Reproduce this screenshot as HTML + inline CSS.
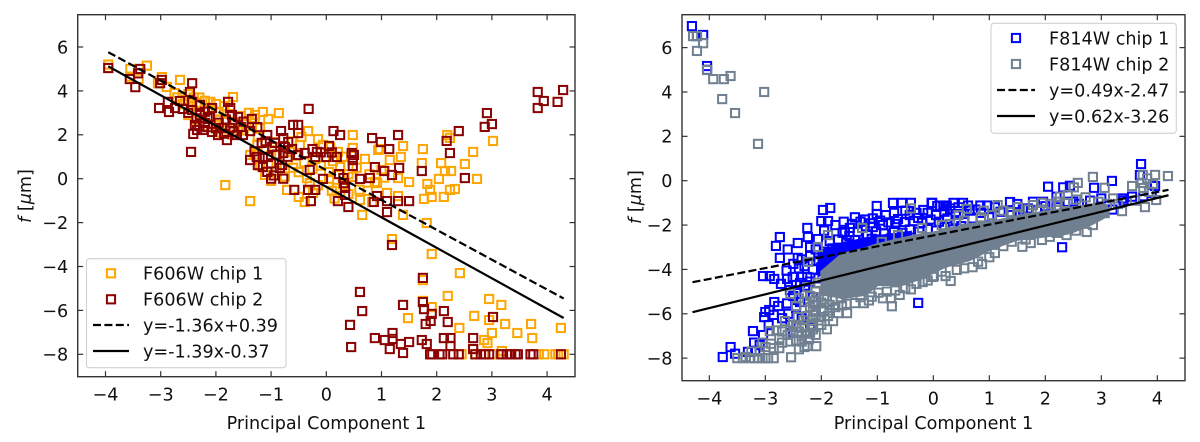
<!DOCTYPE html>
<html lang="en">
<head>
<meta charset="utf-8">
<title>Principal component fits</title>
<style>
html,body{margin:0;padding:0;background:#fff;width:1200px;height:442px;overflow:hidden}
svg{display:block}
text{font-family:"DejaVu Sans","Liberation Sans",sans-serif;font-size:17.6px;fill:#111}
</style>
</head>
<body>
<svg id="chart" xmlns="http://www.w3.org/2000/svg" width="1200" height="442" viewBox="0 0 1200 442"></svg>
<script>
const xTickLabels = [-4,-3,-2,-1,0,1,2,3,4];
const yTickLabels = [-8,-6,-4,-2,0,2,4,6];
const xAxisLabel = "Principal Component 1";

const f606Chip1 = [[-3.95,5.2],[-3.95,5.05],[-3.55,5.0],[-3.25,5.15],[-3.55,4.65],[-3.4,4.55],[-2.98,4.63],[-3.05,4.35],[-2.89,4.18],[-2.65,4.5],[-2.75,3.9],[-2.5,3.85],[-2.4,3.7],[-2.3,3.7],[-2.2,3.55],[-2.1,3.5],[-2.0,3.4],[-2.45,3.3],[-2.3,3.0],[-2.6,3.4],[-1.85,3.3],[-1.69,3.72],[-2.1,2.85],[-1.95,2.7],[-1.8,2.6],[-1.65,2.55],[-1.55,2.85],[-1.4,3.0],[-1.3,2.75],[-1.15,3.04],[-0.86,2.99],[-1.05,2.72],[-1.35,2.4],[-1.2,2.3],[-1.5,2.2],[-1.7,2.0],[-1.9,2.1],[-2.2,2.4],[-0.33,2.17],[0.48,1.99],[-1.83,-0.29],[-1.38,-1.02],[0.65,-1.65],[-0.71,-0.51],[-0.5,-0.83],[-0.39,-1.06],[-1.38,1.08],[-1.11,0.17],[-0.48,1.54],[-0.06,1.54],[0.21,1.22],[0.48,1.4],[0.25,0.58],[0.94,1.31],[0.48,0.08],[0.92,-0.2],[0.61,-0.97],[0.19,-0.42],[-0.24,-0.65],[-0.35,0.03],[-0.84,1.44],[-0.66,1.22],[-0.93,1.67],[-1.24,1.9],[-1.29,2.9],[1.39,1.49],[1.75,1.35],[0.97,1.35],[1.15,0.85],[1.35,0.99],[1.73,0.71],[2.08,0.71],[2.51,0.67],[2.66,1.22],[3.02,1.72],[2.19,1.99],[2.24,1.86],[2.15,0.35],[2.26,0.35],[2.04,-0.01],[2.73,-0.01],[2.33,-0.47],[2.24,-0.51],[2.13,-0.83],[1.77,-0.92],[1.91,-0.83],[1.88,-0.51],[1.83,-0.24],[1.5,-0.15],[1.3,0.03],[1.1,-0.65],[1.3,-0.79],[0.83,-1.06],[0.88,-0.15],[0.25,0.53],[0.07,1.44],[1.39,-1.65],[1.82,-2.02],[1.19,-2.75],[1.91,-3.43],[2.42,-4.3],[1.75,-4.62],[2.2,-5.34],[1.75,-5.57],[1.91,-5.85],[2.95,-5.48],[3.17,-5.75],[1.48,-6.35],[2.68,-6.25],[2.95,-6.44],[3.24,-6.62],[2.41,-6.8],[3.0,-7.03],[3.46,-7.03],[3.71,-6.62],[3.73,-7.26],[4.25,-6.8],[2.86,-7.35],[2.92,-7.49],[3.18,-7.85],[2.66,-7.76],[2.45,-8],[2.7,-8],[3.0,-8],[3.2,-8],[3.7,-8],[3.85,-8],[3.95,-8],[4.15,-8],[4.2,-8],[4.3,-8],[-0.2,0.9],[-0.1,0.6],[0.05,0.3],[0.12,0.8],[0.3,1.0],[0.4,0.2],[0.55,0.5],[0.7,0.9],[0.78,0.2],[1.0,0.4],[0.6,-0.5],[0.4,-0.7],[0.15,-0.9],[-0.6,0.5],[-0.9,0.7],[-1.0,-0.1],[-0.3,-0.2],[-0.5,0.3],[-0.75,0.1],[-0.15,1.8],[-0.45,1.9],[-0.62,1.7],[-2.7,3.7],[-2.55,3.6],[-2.35,3.45],[-2.15,3.2],[-1.95,3.05],[-1.75,2.95],[-2.5,2.9],[-2.35,2.7],[-2.0,2.45],[-1.6,2.3],[-1.45,2.5],[-1.25,1.55],[-1.1,1.35],[-1.3,1.1],[-1.0,1.05],[-1.2,0.6],[-0.9,0.35],[-0.7,0.85],[-0.55,1.05],[-0.4,0.75],[-0.25,0.45],[0.05,0.0],[0.3,-0.25],[0.1,-0.55],[-0.15,-0.3],[0.75,-0.55],[1.05,0.05]];

const f606Chip2 = [[-3.95,5.04],[-3.37,5.0],[-3.41,4.8],[-3.56,4.54],[-3.46,4.17],[-2.98,4.5],[-3.01,4.35],[-2.43,4.35],[-2.47,3.95],[-3.03,3.22],[-2.85,3.04],[-2.87,3.5],[-2.65,3.54],[-2.43,3.5],[-2.29,3.36],[-2.74,3.22],[-2.6,3.18],[-2.43,3.13],[-2.29,2.9],[-2.07,3.22],[-2.11,2.81],[-1.78,3.5],[-1.74,3.22],[-1.71,2.9],[-1.6,2.81],[-1.35,2.72],[-2.38,2.45],[-2.2,2.54],[-2.41,2.04],[-2.34,2.22],[-2.23,2.22],[-2.07,2.13],[-1.96,1.99],[-1.89,2.31],[-1.8,1.76],[-1.74,2.31],[-1.62,1.99],[-1.51,1.99],[-1.38,2.17],[-2.45,1.22],[-0.82,2.17],[-1.07,1.99],[-1.17,1.63],[-0.78,1.85],[-0.69,1.67],[-0.93,1.63],[-0.75,1.44],[-0.78,1.17],[-1.38,0.85],[-1.26,0.99],[-1.15,0.94],[-1.06,0.99],[-1.24,0.62],[-1.15,0.53],[-1.07,0.31],[-1,0],[-0.78,0],[-0.84,0.49],[-0.8,0.62],[-0.58,-0.51],[-0.6,2.45],[-0.51,2.45],[-0.51,2.08],[-0.51,1.08],[-0.32,3.18],[0.13,2.17],[0.25,1.99],[0.83,1.85],[0.99,1.67],[1.3,1.99],[1.14,1.35],[0.05,1.49],[-0.39,1.17],[-0.17,1.22],[-0.2,0.99],[0,0.99],[0.19,0.99],[0.46,1.17],[0.5,1.08],[0.48,0.85],[0.48,0.58],[0.88,0.53],[1.05,0.35],[1.32,0.49],[1.19,0.17],[1.73,0.35],[0.79,0.03],[0.61,-0.01],[0.23,0.21],[0.31,0.03],[-0.06,-0.01],[-0.3,0.4],[0.32,-0.2],[0.34,-0.42],[0.34,-0.74],[-0.33,-0.51],[-0.2,-0.51],[-0.28,-1.02],[0.21,-1.02],[0.4,-1.29],[0.86,-1.06],[0.92,-0.79],[1.1,-1.02],[1.3,-1.02],[1.5,-1.02],[1.1,-1.52],[2.51,0.03],[2.24,1.17],[2.18,1.72],[2.4,2.17],[2.87,2.36],[2.91,2.99],[3.0,2.49],[3.83,3.95],[3.83,3.22],[3.94,3.54],[4.19,3.5],[4.29,4.04],[1.19,-3.02],[1.75,-4.52],[0.61,-5.16],[0.65,-6.03],[0.43,-6.66],[0.45,-7.67],[0.88,-7.26],[1.06,-7.35],[1.2,-7.03],[1.2,-7.3],[1.15,-7.76],[1.35,-7.53],[1.5,-7.44],[1.39,-7.94],[1.39,-5.75],[1.75,-5.62],[1.77,-5.94],[1.91,-6.16],[1.89,-6.48],[1.8,-6.62],[2.13,-6.03],[2.2,-6.53],[1.73,-7.35],[1.82,-7.53],[2.13,-7.26],[2.25,-7.26],[2.25,-7.62],[2.66,-7.26],[2.66,-7.76],[3.02,-6.3],[1.88,-8],[1.92,-8],[2.05,-8],[2.1,-8],[2.3,-8],[2.4,-8],[2.7,-8],[2.8,-8],[2.88,-8],[2.95,-8],[3.17,-8],[3.27,-8],[3.35,-8],[3.43,-8],[3.47,-8],[3.7,-8],[3.75,-8],[4.25,-8],[-2.3,2.4],[-2.15,2.35],[-2.0,2.3],[-1.85,2.05],[-1.68,2.15],[-1.55,2.35],[-2.15,2.75],[-1.95,2.55],[-1.82,2.7],[-2.5,3.0],[-2.35,2.75],[-2.2,3.05],[-1.7,2.55],[-1.5,2.6],[-1.25,2.35],[-1.1,1.7],[-0.98,1.45],[-0.9,1.1],[-1.3,1.25],[-1.0,0.7],[-0.95,0.15],[-0.7,1.0],[-0.62,1.35],[-0.25,1.35],[-0.1,1.2],[0.1,1.2]];

const f814Chip1 = [[-4.31,6.97],[-4.22,6.52],[-4.11,6.57],[-4.04,5.17],[-4.04,5.0],[-1.97,-1.32],[-1.84,-1.23],[-2.0,-1.82],[-1.88,-1.82],[-2.25,-2.13],[-2.74,-2.54],[-2.81,-2.94],[-2.42,-2.81],[-2.24,-2.54],[-2.74,-3.48],[-2.42,-3.48],[-2.2,-2.99],[-2.06,-2.63],[-1.01,-1.14],[-1.01,-1.5],[-0.72,-1.0],[-0.56,-1.0],[-0.4,-1.0],[-0.02,-1.0],[0.07,-1.14],[-0.18,-1.32],[-0.63,-1.73],[-0.51,-1.86],[-0.27,-1.68],[-1.58,-2.31],[-1.49,-2.13],[-1.27,-2.13],[-1.08,-2.09],[-0.9,-2.0],[-3.04,-4.3],[-2.92,-4.3],[-2.84,-4.43],[-2.61,-4.43],[-2.51,-4.34],[-2.34,-4.34],[-2.25,-4.34],[-2.38,-4.61],[-2.56,-4.93],[-2.29,-4.79],[-2.38,-5.47],[-2.84,-5.47],[-2.77,-5.65],[-2.61,-5.53],[-2.93,-5.83],[-3.0,-5.92],[-3.02,-6.15],[-2.59,-6.0],[-2.94,-6.51],[-3.22,-6.78],[-3.04,-6.96],[-3.2,-7.3],[-3.1,-7.41],[-0.27,-5.51],[-3.62,-7.5],[-3.76,-7.95],[-3.54,-7.8],[-3.31,-7.72],[-3.18,-7.68],[3.71,0.75],[3.69,0.25],[3.19,-0.01],[2.87,-0.32],[2.05,-0.27],[2.32,-0.3],[2.44,-0.23],[2.3,-3.0],[1.37,-0.96],[0.96,-1.12],[0.84,-1.12],[0.62,-1.12],[0.53,-1],[0.36,-1],[0.24,-1.12],[0.12,-1.12],[-0.03,-1],[1.78,-0.95],[1.96,-0.95],[1.69,-1.25],[2.2,-0.72],[2.5,-0.95],[3.55,-0.72],[3.37,-0.8],[3.96,-0.24],[-1.45,-1.95],[-1.3,-1.85],[-1.12,-1.92],[-0.95,-1.8],[-0.8,-1.88],[-0.68,-1.95],[-0.35,-1.82],[-0.2,-1.9],[-0.05,-1.75],[0.1,-1.85],[0.25,-1.7],[0.4,-1.78],[-1.62,-2.35],[-1.5,-2.5],[-1.35,-2.3],[-1.18,-2.42],[-1.02,-2.28],[-0.88,-2.38],[-0.7,-2.25],[-0.55,-2.35],[-0.42,-2.2],[-0.25,-2.3],[-0.1,-2.18],[0.05,-2.25],[0.2,-2.1],[0.35,-2.2],[0.5,-2.05],[-1.85,-2.72],[-1.7,-2.65],[-1.55,-2.8],[-1.4,-2.68],[-1.25,-2.78],[-1.1,-2.62],[-0.92,-2.7],[-0.75,-2.6],[-0.6,-2.65],[-2.1,-3.1],[-1.95,-3.2],[-1.8,-3.05],[-1.65,-3.15],[-1.5,-3.0],[-2.35,-3.55],[-2.2,-3.4],[-2.05,-3.6],[-1.9,-3.5],[-1.75,-3.4],[-2.4,-3.95],[-2.3,-3.85],[-2.15,-4.0],[-2.0,-3.9],[-2.45,-4.7],[-2.2,-4.55],[-2.05,-4.4],[-2.5,-5.2],[-2.3,-5.1],[-2.15,-5.25],[-2.35,-6.2],[-2.2,-6.6],[-2.5,-6.85],[-2.1,-5.9],[0.55,-1.5],[0.7,-1.7],[0.85,-1.45],[1.0,-1.65],[1.2,-1.4],[1.4,-1.55],[1.6,-1.3],[1.85,-1.35],[2.0,-1.15],[2.2,-1.2],[2.4,-0.95],[2.6,-1.05],[2.8,-0.9],[3.0,-0.8],[3.2,-1.3],[3.4,-0.9],[3.9,-0.55],[3.75,-0.7],[2.9,-1.45],[0.2,-1.4],[0.4,-1.5],[0.65,-1.35],[-0.3,-1.45],[-0.1,-1.45],[0.05,-1.55],[-1.95,-2.25],[-1.75,-2.0],[-1.6,-1.85],[-1.4,-1.65],[-1.22,-1.75],[-1.08,-1.7],[-0.85,-1.55],[-0.7,-1.45],[-0.5,-1.35],[-0.42,-1.55],[0.18,-1.15],[0.3,-1.25],[0.45,-1.2],[0.75,-1.3],[1.1,-1.2],[1.5,-1.05],[-2.6,-3.1],[-2.5,-3.75],[-2.62,-4.05],[-2.72,-4.65],[-2.45,-5.75],[-2.7,-6.2],[-2.85,-6.05],[-2.55,-6.5]];

const f814Chip2 = [[-4.29,6.52],[-4.22,6.52],[-4.11,6.2],[-4.22,5.85],[-4.04,4.99],[-3.93,4.58],[-3.74,4.58],[-3.62,4.72],[-3.77,3.68],[-3.54,3.05],[-3.02,4],[-3.13,1.66],[-3.5,-8],[-3.4,-8],[-3.35,-7.95],[-3.28,-8],[-3.2,-8],[-3.12,-8],[-3.05,-8],[-3.0,-8],[-2.95,-8],[-2.85,-8],[-2.54,-7.96],[-3.1,-7.7],[-3.0,-7.5],[-2.85,-7.55],[-2.75,-7.55],[-2.4,-7.6],[-2.3,-7.5],[-2.25,-7.45],[-2.45,-7.2],[-2.35,-7.0],[-2.09,-7.46],[-2.92,-6.78],[-2.8,-6.75],[-2.7,-6.8],[-2.65,-6.33],[-2.5,-6.5],[-2.4,-6.8],[-2.3,-6.6],[-2.25,-6.1],[-2.15,-6.2],[-2.05,-6.3],[-2.0,-6.5],[-1.9,-6.7],[-1.95,-5.9],[-2.2,-5.7],[-2.1,-5.6],[-2.0,-5.5],[-2.15,-5.9],[-2.32,-6.3],[-2.28,-6.9],[-2.18,-6.5],[-2.42,-6.15],[-2.6,-6.95],[-2.75,-7.1],[-2.55,-7.25],[-2.22,-7.15],[-2.2,-6.85],[-1.79,-6.33],[-1.7,-5.97],[-1.54,-5.97],[-1.63,-5.62],[-1.4,-5.52],[-1.24,-5.52],[-1.1,-5.23],[-0.74,-5.66],[-0.76,-5.3],[-0.6,-5.15],[-0.83,-5],[-0.19,-4.57],[-0.01,-4.34],[0.31,-4.52],[0.01,-4.3],[0.42,-4.02],[0.87,-3.76],[1.1,-3.26],[1.59,-2.98],[1.74,-2.81],[1.94,-2.67],[2.08,-2.53],[2.38,-2.45],[2.74,-2.31],[2.85,-2.0],[3.06,-1.46],[3.37,-1.37],[3.78,-1.19],[3.98,-0.87],[2.85,0.17],[2.58,-0.1],[2.51,-0.3],[3.06,-0.32],[3.55,-0.24],[3.74,0.26],[3.96,0.26],[4.19,0.21],[3.72,-0.1],[3.75,-0.33],[1.15,-1.1],[0.6,-1.27],[1.51,-1.19],[1.37,-1.41],[1.78,-1.1],[1.94,-1],[2.26,-0.72],[2.4,-0.64],[2.22,-0.95],[3.21,-0.8],[-1.88,-2.45],[-1.27,-2.13],[-0.63,-2.45],[-0.4,-1.25],[-0.2,-2.13],[0.15,-2],[-2.06,-2.99],[-2.24,-3.66],[-0.92,-2.76],[-2.55,-5.1],[-2.4,-5.3],[-2.2,-5.2],[-2.1,-5.0],[-2.25,-4.8],[-2.05,-4.6],[-1.9,-5.2],[-1.8,-5.4],[-1.65,-5.3],[-0.4,-4.9],[0.7,-3.9],[0.8,-3.65],[1.25,-2.95],[1.4,-2.75],[1.65,-2.65],[2.2,-2.35],[2.55,-2.25],[0.3,-1.95],[0.55,-1.8],[0.85,-1.65],[1.05,-1.55],[1.25,-1.35],[1.5,-1.5],[1.7,-1.3],[1.9,-1.3],[2.1,-1.05],[2.35,-1.0],[2.55,-0.85],[2.72,-0.75],[2.95,-0.95],[3.1,-1.05],[3.3,-1.05],[3.6,-0.9],[3.85,-0.5],[3.92,-0.15],[3.82,0.1],[0.45,-1.55],[0.9,-1.35],[-1.85,-5.6],[-1.75,-5.7],[-1.95,-5.35],[-2.05,-5.25],[-2.12,-5.45],[-2.3,-5.45],[-2.45,-5.65],[-2.0,-5.8],[-1.88,-6.1],[-1.85,-5.85],[-2.1,-6.05],[-2.0,-6.15],[-2.45,-6.6],[-2.35,-7.25],[-2.55,-6.75],[-2.15,-6.7],[-2.1,-6.95],[-2.7,-7.3],[-2.9,-7.35],[-3.05,-7.3],[-3.25,-7.7],[-1.55,-5.55],[-1.3,-5.25],[-1.15,-5.4],[-0.98,-5.05],[-0.9,-5.3],[-0.68,-4.95],[-0.5,-4.85],[-0.3,-4.65],[-0.1,-4.5],[0.15,-4.1],[0.22,-4.3],[0.55,-3.95],[1.0,-3.45]];

const chip1CoreX = [-2.05,-1.6,-1.0,-0.4];
const chip1CoreUpper = [-3.2,-2.8,-2.5,-2.3];
const chip1CoreLower = [-4.3,-3.5,-3.0,-2.7];

const chip2CoreX = [-2.0,-1.63,-1.22,-0.99,-0.56,-0.38,-0.2,0.2,0.65,1.01,1.13,1.49,1.73,1.96,2.32,2.44,2.8,2.92,3.1];
const chip2CoreUpper = [-4.1,-3.3,-3.05,-2.85,-2.6,-2.5,-2.4,-2.25,-1.95,-1.85,-1.8,-1.6,-1.5,-1.4,-1.27,-1.22,-1.08,-1.05,-1.1];
const chip2CoreLower = [-5.06,-5.3,-5.15,-4.7,-4.7,-4.55,-4.4,-3.9,-3.58,-3.12,-3.0,-2.67,-2.6,-2.53,-2.42,-2.37,-2.0,-1.85,-1.6];

const leftFitDashed = {slope:-1.36, intercept:0.39};
const leftFitSolid = {slope:-1.39, intercept:-0.37};
const rightFitDashed = {slope:0.49, intercept:-2.47};
const rightFitSolid = {slope:0.62, intercept:-3.26};
const leftFitRange = [-3.95,4.3];
const rightFitRange = [-4.3,4.2];

const NS = "http://www.w3.org/2000/svg";
const root = document.getElementById("chart");

function make(tag, attrs, parent, txt){
  const el = document.createElementNS(NS, tag);
  for (const k in attrs) el.setAttribute(k, attrs[k]);
  if (txt !== undefined) el.textContent = txt;
  parent.appendChild(el);
  return el;
}

function drawPanel(p){
  const g = make("g", {}, root);
  
  
  const sx = v => p.x0 + p.xk * v;
  const sy = v => p.y0 - p.yk * v;

  function band(xs, up, lo, color, nm){
    const pts = xs.map((x,i) => sx(x) + "," + sy(up[i])).concat(xs.map((x,i) => sx(x) + "," + sy(lo[i])).reverse());
    const poly = make("polygon", {points: pts.join(" "), fill: color, stroke: color, "stroke-width": 2}, g);
    
    
  }
  function scatter(list, color, nm){
    const sg = make("g", {}, g);
    
    
    list.forEach(d => {
      const r = make("rect", {x: sx(d[0]) - 4.1, y: sy(d[1]) - 4.1, width: 8.2, height: 8.2, fill: "none", stroke: color, "stroke-width": 2}, sg);
      
      
    });
  }
  function fit(f, range, dashed, nm){
    const ln = make("line", {x1: sx(range[0]), y1: sy(f.slope * range[0] + f.intercept), x2: sx(range[1]), y2: sy(f.slope * range[1] + f.intercept), stroke: "#000", "stroke-width": 2.2}, g);
    if (dashed) ln.setAttribute("stroke-dasharray", "8 3.4");
    
    
  }

  p.draw(band, scatter, fit);

  const frame = make("rect", {x: p.l, y: p.t, width: p.r - p.l, height: p.b - p.t, fill: "none", stroke: "#333", "stroke-width": 1.4}, g);
  
  

  xTickLabels.forEach(v => {
    const x = sx(v);
    const t1 = make("line", {x1: x, y1: p.b, x2: x, y2: p.b - 5.5, stroke: "#333", "stroke-width": 1.2}, g);
    
    
    const t2 = make("line", {x1: x, y1: p.t, x2: x, y2: p.t + 5.5, stroke: "#333", "stroke-width": 1.2}, g);
    
    
    const lb = make("text", {x: x, y: p.b + 24, "text-anchor": "middle"}, g, String(v).replace("-", "\u2212"));
    
    
  });
  yTickLabels.forEach(v => {
    const y = sy(v);
    const t1 = make("line", {x1: p.l, y1: y, x2: p.l + 5.5, y2: y, stroke: "#333", "stroke-width": 1.2}, g);
    
    
    const t2 = make("line", {x1: p.r, y1: y, x2: p.r - 5.5, y2: y, stroke: "#333", "stroke-width": 1.2}, g);
    
    
    const lb = make("text", {x: p.l - 9.5, y: y + 6.4, "text-anchor": "end"}, g, String(v).replace("-", "\u2212"));
    
    
  });

  const xl = make("text", {x: (p.l + p.r) / 2, y: p.labelY, "text-anchor": "middle"}, g, xAxisLabel);
  
  

  const yl = make("text", {transform: "translate(" + p.ylX + "," + p.ylY + ") rotate(-90)", "text-anchor": "middle"}, g);
  
  
  make("tspan", {"font-style": "italic"}, yl, "f");
  make("tspan", {}, yl, " [");
  make("tspan", {"font-style": "italic"}, yl, "\u03bc");
  make("tspan", {}, yl, "m]");

  const L = p.legend;
  const lg = make("g", {}, g);
  
  
  const box = make("rect", {x: L.x, y: L.y, width: L.w, height: L.h, rx: 3, fill: "#fff", stroke: "#d0d0d0", "stroke-width": 1.1}, lg);
  
  
  L.items.forEach((it, i) => {
    const cy = L.rows[i];
    let h;
    if (it.color) {
      h = make("rect", {x: L.mx - 4.1, y: cy - 4.1, width: 8.2, height: 8.2, fill: "none", stroke: it.color, "stroke-width": 2}, lg);
    } else {
      h = make("line", {x1: L.hx1, y1: cy, x2: L.hx2, y2: cy, stroke: "#000", "stroke-width": 2.2}, lg);
      if (it.dashed) h.setAttribute("stroke-dasharray", "8 3.4");
    }
    
    
    const tx = make("text", {x: L.tx, y: cy + 6.3}, lg, it.label);
    
    
  });
}

drawPanel({
  name: "panel-f606w", l: 77.7, r: 575, t: 14.7, b: 376.7,
  x0: 326.3, xk: 55.2, y0: 178.7, yk: 21.95, labelY: 429, ylX: 31, ylY: 196,
  draw(band, scatter, fit){
    scatter(f606Chip1, "#ffa500", "f606w-chip-1-series");
    scatter(f606Chip2, "#8b0000", "f606w-chip-2-series");
    fit(leftFitDashed, leftFitRange, true, "f606w-fit-dashed");
    fit(leftFitSolid, leftFitRange, false, "f606w-fit-solid");
  },
  legend: {x: 86.5, y: 258.7, w: 199.5, h: 109, mx: 111, hx1: 93, hx2: 129, tx: 143, rows: [273.3,299.3,325,351],
    items: [{label:"F606W chip 1", color:"#ffa500"},{label:"F606W chip 2", color:"#8b0000"},{label:"y=-1.36x+0.39", dashed:true},{label:"y=-1.39x-0.37"}]}
});

drawPanel({
  name: "panel-f814w", l: 682, r: 1185, t: 14.7, b: 380.7,
  x0: 933.3, xk: 56, y0: 180.7, yk: 22.18, labelY: 429, ylX: 641, ylY: 197,
  draw(band, scatter, fit){
    band(chip1CoreX, chip1CoreUpper, chip1CoreLower, "#0000ff", "f814w-chip-1-dense-core");
    scatter(f814Chip1, "#0000ff", "f814w-chip-1-series");
    band(chip2CoreX, chip2CoreUpper, chip2CoreLower, "#708090", "f814w-chip-2-dense-core");
    scatter(f814Chip2, "#708090", "f814w-chip-2-series");
    fit(rightFitDashed, rightFitRange, true, "f814w-fit-dashed");
    fit(rightFitSolid, rightFitRange, false, "f814w-fit-solid");
  },
  legend: {x: 991, y: 23.3, w: 185.3, h: 110, mx: 1016, hx1: 997, hx2: 1035, tx: 1049, rows: [38,64,90,116],
    items: [{label:"F814W chip 1", color:"#0000ff"},{label:"F814W chip 2", color:"#708090"},{label:"y=0.49x-2.47", dashed:true},{label:"y=0.62x-3.26"}]}
});
</script>
</body>
</html>
